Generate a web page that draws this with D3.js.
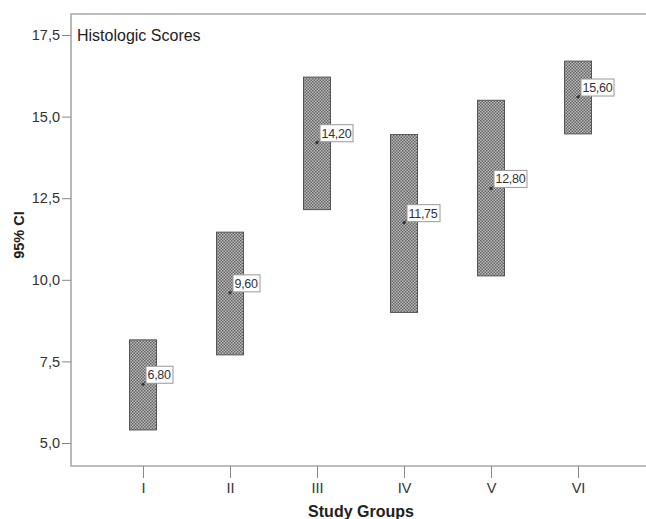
<!DOCTYPE html>
<html>
<head>
<meta charset="utf-8">
<script src="https://cdn.jsdelivr.net/npm/d3@7"></script>
<style>
  body { margin: 0; background: #fff; overflow: hidden; }
  svg { font-family: "Liberation Sans", Arial, sans-serif; display: block; }
</style>
</head>
<body>
<script>
var width = 646,
    height = 519;

// group labels and CI values
var groups = ["I", "II", "III", "IV", "V", "VI"];
var means = [6.80, 9.60, 14.20, 11.75, 12.80, 15.60];
var lower = [5.40, 7.70, 12.15, 9.00, 10.12, 14.47];
var upper = [8.16, 11.46, 16.21, 14.45, 15.50, 16.70];
var yTicks = [5.0, 7.5, 10.0, 12.5, 15.0, 17.5];

var margin = {top: 14, left: 71, bottom: 53};

var svg = d3.select("body").append("svg")
    .attr("width", width)
    .attr("height", height);

var defs = svg.append("defs");
var pat = defs.append("pattern")
    .attr("id", "hatch")
    .attr("width", 3)
    .attr("height", 3)
    .attr("patternUnits", "userSpaceOnUse");
pat.append("rect").attr("width", 3).attr("height", 3).attr("fill", "#bdbdbd");
pat.append("rect").attr("width", 1.5).attr("height", 1.5).attr("fill", "#626262");
pat.append("rect").attr("x", 1.5).attr("y", 1.5).attr("width", 1.5).attr("height", 1.5).attr("fill", "#626262");

var x = d3.scalePoint()
    .domain(groups)
    .range([143, 578]);

var y = d3.scaleLinear()
    .domain([5, 17.5])
    .range([443, 35]);

var bottom = height - margin.bottom;

// frame (open on the right)
svg.append("path")
    .attr("d", "M" + (width + 10) + "," + margin.top + "H" + margin.left + "V" + bottom + "H" + (width + 10))
    .attr("fill", "none")
    .attr("stroke", "#a8a8a8")
    .attr("stroke-width", 1.6);

// y axis
var yAxis = svg.append("g")
    .attr("transform", "translate(" + margin.left + ",0)")
    .call(d3.axisLeft(y).tickValues(yTicks).tickSize(9).tickPadding(2)
      .tickFormat(function(d) { return d3.format(".1f")(d).replace(".", ","); }));
yAxis.select(".domain").remove();
yAxis.selectAll("line").attr("stroke", "#888");
yAxis.selectAll("text").attr("font-size", 14.5).attr("fill", "#333")
    .attr("font-family", "Liberation Sans, Arial, sans-serif");

// x axis
var xAxis = svg.append("g")
    .attr("transform", "translate(0," + bottom + ")")
    .call(d3.axisBottom(x).tickSize(12).tickPadding(5));
xAxis.select(".domain").remove();
xAxis.selectAll("line").attr("stroke", "#888");
xAxis.selectAll("text").attr("font-size", 14.5).attr("fill", "#333")
    .attr("font-family", "Liberation Sans, Arial, sans-serif");

// CI boxes
var boxW = 27;
var box = svg.append("g").selectAll("g")
    .data(groups)
    .join("g");

box.append("rect")
    .attr("x", function(d) { return x(d) - boxW / 2; })
    .attr("y", function(d, i) { return y(upper[i]); })
    .attr("width", boxW)
    .attr("height", function(d, i) { return y(lower[i]) - y(upper[i]); })
    .attr("fill", "url(#hatch)")
    .attr("stroke", "#555")
    .attr("stroke-width", 1);

box.append("line")
    .attr("x1", function(d) { return x(d); })
    .attr("y1", function(d, i) { return y(means[i]); })
    .attr("x2", function(d) { return x(d) + 4; })
    .attr("y2", function(d, i) { return y(means[i]) - 4; })
    .attr("stroke", "#444");

box.append("circle")
    .attr("cx", function(d) { return x(d); })
    .attr("cy", function(d, i) { return y(means[i]); })
    .attr("r", 1.6)
    .attr("fill", "#333");

box.append("rect")
    .attr("x", function(d) { return x(d) + 3; })
    .attr("y", function(d, i) { return y(means[i]) - 18; })
    .attr("width", function(d, i) { return means[i] >= 10 ? 33 : 27; })
    .attr("height", 17)
    .attr("fill", "#fff")
    .attr("stroke", "#999");

box.append("text")
    .attr("x", function(d) { return x(d) + 4.5; })
    .attr("y", function(d, i) { return y(means[i]) - 5; })
    .attr("font-size", 12.5)
    .attr("letter-spacing", -0.3)
    .attr("fill", "#333")
    .text(function(d, i) { return d3.format(".2f")(means[i]).replace(".", ","); });

// titles
svg.append("text")
    .attr("x", 77)
    .attr("y", 41)
    .attr("font-size", 16)
    .attr("fill", "#222")
    .text("Histologic Scores");

svg.append("text")
    .attr("x", 361)
    .attr("y", 517)
    .attr("text-anchor", "middle")
    .attr("font-size", 16)
    .attr("font-weight", "bold")
    .attr("fill", "#222")
    .text("Study Groups");

svg.append("text")
    .attr("transform", "translate(24,235) rotate(-90)")
    .attr("text-anchor", "middle")
    .attr("font-size", 14.5)
    .attr("font-weight", "bold")
    .attr("fill", "#222")
    .text("95% CI");
</script>
</body>
</html>
